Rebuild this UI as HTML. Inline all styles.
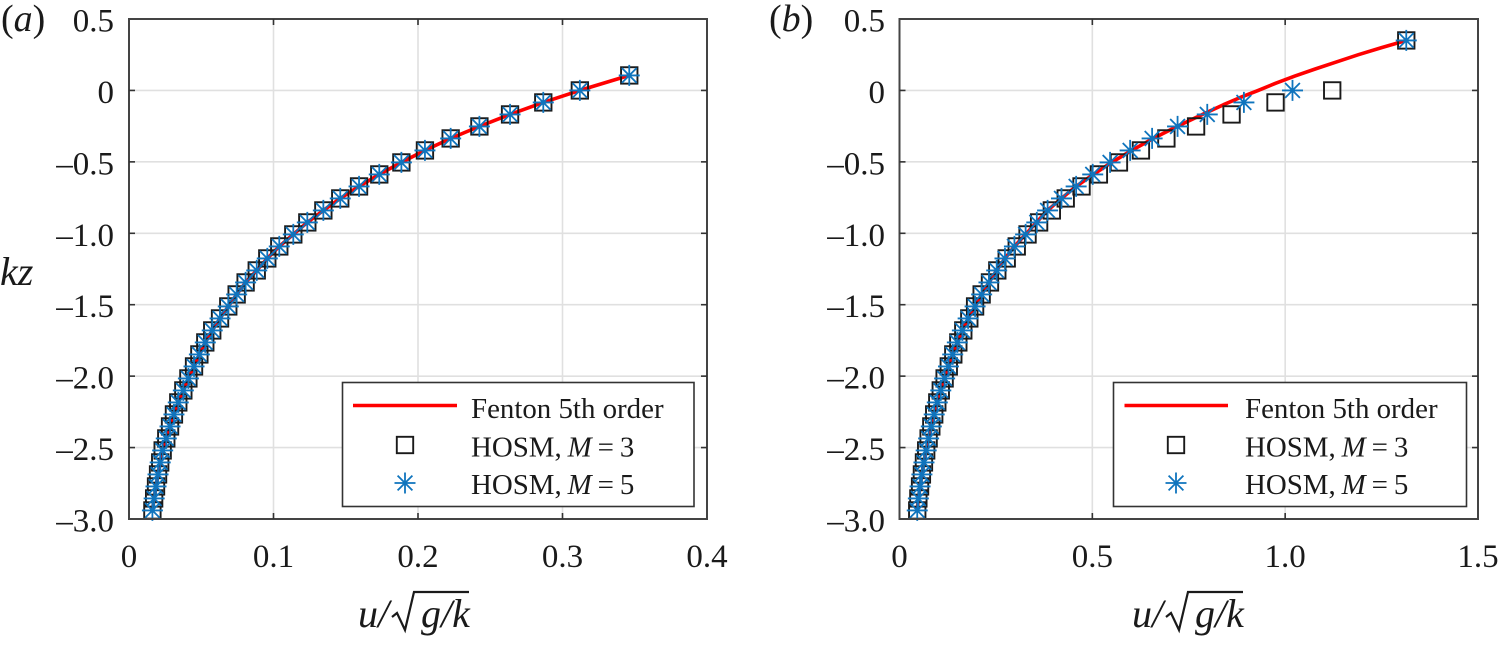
<!DOCTYPE html>
<html>
<head>
<meta charset="utf-8">
<title>Velocity profiles</title>
<style>
html,body{margin:0;padding:0;background:#fff;}
svg{display:block;font-family:"Liberation Serif",serif;fill:#1a1a1a;}
</style>
</head>
<body>
<svg id="fig" xmlns="http://www.w3.org/2000/svg" width="1503" height="665" viewBox="0 0 1503 665"></svg>
<script>
var yTicks = [0.5, 0, -0.5, -1, -1.5, -2, -2.5, -3];
var yTickLabels = ["0.5", "0", "–0.5", "–1.0", "–1.5", "–2.0", "–2.5", "–3.0"];
var xTicksA = [0, 0.1, 0.2, 0.3, 0.4];
var xTickLabelsA = ["0", "0.1", "0.2", "0.3", "0.4"];
var xTicksB = [0, 0.5, 1.0, 1.5];
var xTickLabelsB = ["0", "0.5", "1.0", "1.5"];

var kzA = [0.105, 0, -0.084, -0.168, -0.252, -0.336, -0.42, -0.504, -0.588, -0.672, -0.756, -0.84, -0.924, -1.008, -1.092, -1.176, -1.26, -1.344, -1.428, -1.512, -1.596, -1.68, -1.764, -1.848, -1.932, -2.016, -2.1, -2.184, -2.268, -2.352, -2.436, -2.52, -2.604, -2.688, -2.772, -2.856, -2.94];
var kzB = [0.35, 0, -0.084, -0.168, -0.252, -0.336, -0.42, -0.504, -0.588, -0.672, -0.756, -0.84, -0.924, -1.008, -1.092, -1.176, -1.26, -1.344, -1.428, -1.512, -1.596, -1.68, -1.764, -1.848, -1.932, -2.016, -2.1, -2.184, -2.268, -2.352, -2.436, -2.52, -2.604, -2.688, -2.772, -2.856, -2.94];

var fentonUA = [0.3462, 0.312, 0.2867, 0.2637, 0.2425, 0.2226, 0.2048, 0.1885, 0.1732, 0.1592, 0.1462, 0.1345, 0.1234, 0.1137, 0.104, 0.0957, 0.0884, 0.0807, 0.0745, 0.0687, 0.063, 0.0576, 0.0528, 0.0487, 0.045, 0.0411, 0.0376, 0.0341, 0.0311, 0.0284, 0.0258, 0.0233, 0.0216, 0.0201, 0.0187, 0.0174, 0.0162];
var fentonKzA = [0.105, 0, -0.084, -0.168, -0.252, -0.336, -0.42, -0.504, -0.588, -0.672, -0.756, -0.84, -0.924, -1.008, -1.092, -1.176, -1.26, -1.344, -1.428, -1.512, -1.596, -1.68, -1.764, -1.848, -1.932, -2.016, -2.1, -2.184, -2.268, -2.352, -2.436, -2.52, -2.604, -2.688, -2.772, -2.856, -2.94];
var m3UA = [0.3462, 0.312, 0.2867, 0.2637, 0.2425, 0.2226, 0.2048, 0.1885, 0.1732, 0.1592, 0.1462, 0.1345, 0.1234, 0.1137, 0.104, 0.0957, 0.0884, 0.0807, 0.0745, 0.0687, 0.063, 0.0576, 0.0528, 0.0487, 0.045, 0.0411, 0.0376, 0.0341, 0.0311, 0.0284, 0.0258, 0.0233, 0.0216, 0.0201, 0.0187, 0.0174, 0.0162];
var m5UA = [0.3462, 0.312, 0.2867, 0.2637, 0.2425, 0.2226, 0.2048, 0.1885, 0.1732, 0.1592, 0.1462, 0.1345, 0.1234, 0.1137, 0.104, 0.0957, 0.0884, 0.0807, 0.0745, 0.0687, 0.063, 0.0576, 0.0528, 0.0487, 0.045, 0.0411, 0.0376, 0.0341, 0.0311, 0.0284, 0.0258, 0.0233, 0.0216, 0.0201, 0.0187, 0.0174, 0.0162];

var fentonUB = [1.314, 1.25, 1.19, 1.133, 1.078, 1.025, 0.975, 0.93, 0.883, 0.84, 0.786, 0.72, 0.658, 0.602, 0.55, 0.503, 0.458, 0.42, 0.384, 0.355, 0.327, 0.298, 0.2735, 0.252, 0.232, 0.213, 0.196, 0.178, 0.163, 0.15, 0.138, 0.127, 0.117, 0.107, 0.098, 0.09, 0.0825, 0.0755, 0.0692, 0.0634, 0.0581, 0.0533, 0.0489, 0.046];
var fentonKzB = [0.35, 0.3, 0.25, 0.2, 0.15, 0.1, 0.05, 0, -0.05, -0.1, -0.168, -0.252, -0.336, -0.42, -0.504, -0.588, -0.672, -0.756, -0.84, -0.924, -1.008, -1.092, -1.176, -1.26, -1.344, -1.428, -1.512, -1.596, -1.68, -1.764, -1.848, -1.932, -2.016, -2.1, -2.184, -2.268, -2.352, -2.436, -2.52, -2.604, -2.688, -2.772, -2.856, -2.94];
var m3UB = [1.314, 1.122, 0.975, 0.861, 0.769, 0.692, 0.626, 0.569, 0.517, 0.472, 0.431, 0.395, 0.362, 0.332, 0.304, 0.278, 0.2536, 0.2346, 0.213, 0.196, 0.181, 0.1654, 0.1525, 0.1395, 0.1278, 0.117, 0.107, 0.098, 0.09, 0.0825, 0.0755, 0.0692, 0.0634, 0.0581, 0.0533, 0.0489, 0.046];
var m5UB = [1.314, 1.019, 0.893, 0.798, 0.721, 0.655, 0.598, 0.546, 0.501, 0.458, 0.42, 0.384, 0.356, 0.327, 0.298, 0.2735, 0.252, 0.232, 0.213, 0.196, 0.178, 0.163, 0.15, 0.138, 0.127, 0.117, 0.107, 0.098, 0.09, 0.0825, 0.0755, 0.0692, 0.0634, 0.0581, 0.0533, 0.0489, 0.046];

var NS = "http://www.w3.org/2000/svg";
var fig = document.getElementById("fig");

function make(parent, tag, attrs, name) {
  var el = document.createElementNS(NS, tag);
  for (var k in attrs) { el.setAttribute(k, attrs[k]); }
  
  
  parent.appendChild(el);
  return el;
}

function drawStar(parent, cx, cy, name) {
  var s = make(parent, "path", {
    d: "M" + cx + " " + (cy - 10.5) + "V" + (cy + 10.5) +
       "M" + (cx - 10.5) + " " + cy + "H" + (cx + 10.5) +
       "M" + (cx - 7.4) + " " + (cy - 7.4) + "L" + (cx + 7.4) + " " + (cy + 7.4) +
       "M" + (cx - 7.4) + " " + (cy + 7.4) + "L" + (cx + 7.4) + " " + (cy - 7.4),
    fill: "none", stroke: "#0f74bd", "stroke-width": 1.8
  }, name);
  return s;
}

function drawSquare(parent, cx, cy, name) {
  return make(parent, "rect", {
    x: cx - 8.2, y: cy - 8.2, width: 16.4, height: 16.4,
    fill: "none", stroke: "#1a1a1a", "stroke-width": 1.9
  }, name);
}

function drawPanel(id, x0, x1, xMax, xT, xL, kz, fU, fK, m3, m5, labelRight) {
  var yTop = 19, yBot = 519;
  function sx(u) { return x0 + u / xMax * (x1 - x0); }
  function sy(v) { return yTop + (0.5 - v) / 3.5 * (yBot - yTop); }
  var g = make(fig, "g", {}, "panel-" + id);
  var i;

  for (i = 0; i < xT.length; i++) {
    if (xT[i] > 0 && xT[i] < xMax) {
      make(g, "line", {x1: sx(xT[i]), x2: sx(xT[i]), y1: yTop, y2: yBot, stroke: "#e0e0e0", "stroke-width": 1.6}, "x-gridline");
    }
  }
  for (i = 0; i < yTicks.length; i++) {
    if (yTicks[i] < 0.5 && yTicks[i] > -3) {
      make(g, "line", {x1: x0, x2: x1, y1: sy(yTicks[i]), y2: sy(yTicks[i]), stroke: "#e0e0e0", "stroke-width": 1.6}, "y-gridline");
    }
  }

  var pts = [];
  for (i = 0; i < fU.length; i++) { pts.push(sx(fU[i]).toFixed(1) + "," + sy(fK[i]).toFixed(1)); }
  make(g, "polyline", {points: pts.join(" "), fill: "none", stroke: "#ff0000", "stroke-width": 3.6, "stroke-linejoin": "round"}, "fenton-curve");

  for (i = 0; i < m3.length; i++) { drawSquare(g, sx(m3[i]), sy(kz[i]), "hosm-m3-marker"); }
  for (i = 0; i < m5.length; i++) { drawStar(g, sx(m5[i]), sy(kz[i]), "hosm-m5-marker"); }

  make(g, "rect", {x: x0, y: yTop, width: x1 - x0, height: yBot - yTop, fill: "none", stroke: "#444", "stroke-width": 2}, "axes-box");

  for (i = 0; i < xT.length; i++) {
    var xp = sx(xT[i]);
    if (xT[i] > 0 && xT[i] < xMax) {
      make(g, "line", {x1: xp, x2: xp, y1: yTop, y2: yTop + 6, stroke: "#333", "stroke-width": 1.6}, "x-tick-top");
      make(g, "line", {x1: xp, x2: xp, y1: yBot, y2: yBot - 6, stroke: "#333", "stroke-width": 1.6}, "x-tick-bottom");
    }
    var tx = make(g, "text", {x: xp, y: 567, "text-anchor": "middle", "font-size": 33}, "x-tick-label");
    tx.textContent = xL[i];
  }
  for (i = 0; i < yTicks.length; i++) {
    var yp = sy(yTicks[i]);
    if (yTicks[i] < 0.5 && yTicks[i] > -3) {
      make(g, "line", {x1: x0, x2: x0 + 6, y1: yp, y2: yp, stroke: "#333", "stroke-width": 1.6}, "y-tick-left");
      make(g, "line", {x1: x1, x2: x1 - 6, y1: yp, y2: yp, stroke: "#333", "stroke-width": 1.6}, "y-tick-right");
    }
    var ty = make(g, "text", {x: labelRight, y: yp + 12.5, "text-anchor": "end", "font-size": 33}, "y-tick-label");
    ty.textContent = yTickLabels[i];
  }
  return g;
}

function drawLegend(g, bx0, bx1, lx0, lx1, mx, tx) {
  make(g, "rect", {x: bx0, y: 382.5, width: bx1 - bx0, height: 124, fill: "#fff", stroke: "#333", "stroke-width": 1.6}, "legend-box");
  make(g, "line", {x1: lx0, x2: lx1, y1: 405.5, y2: 405.5, stroke: "#ff0000", "stroke-width": 3.6}, "legend-line-fenton");
  drawSquare(g, mx, 445, "legend-marker-m3");
  drawStar(g, mx, 483, "legend-marker-m5");
  var t1 = make(g, "text", {x: tx, y: 418, "font-size": 28.9}, "legend-label-fenton");
  t1.textContent = "Fenton 5th order";
  var t2 = make(g, "text", {x: tx, y: 456.5, "font-size": 28.9, "word-spacing": -1.3}, "legend-label-m3");
  t2.innerHTML = 'HOSM, <tspan font-style="italic">M</tspan> = 3';
  var t3 = make(g, "text", {x: tx, y: 494, "font-size": 28.9, "word-spacing": -1.3}, "legend-label-m5");
  t3.innerHTML = 'HOSM, <tspan font-style="italic">M</tspan> = 5';
}

function drawXLabel(g, dx) {
  var lab1 = make(g, "text", {x: 358 + dx, y: 627, "font-size": 40, "font-style": "italic"}, "x-axis-title");
  lab1.textContent = "u/";
  make(g, "path", {d: "M" + (392 + dx) + " 617L" + (397 + dx) + " 613L" + (405 + dx) + " 630L" + (414 + dx) + " 592H" + (469 + dx), fill: "none", stroke: "#1a1a1a", "stroke-width": 2.2}, "x-axis-title-radical");
  var lab2 = make(g, "text", {x: 421 + dx, y: 627, "font-size": 40, "font-style": "italic"}, "x-axis-title-radicand");
  lab2.textContent = "g/k";
}

var pa = drawPanel("a", 129, 707, 0.4, xTicksA, xTickLabelsA, kzA, fentonUA, fentonKzA, m3UA, m5UA, 114);
var pb = drawPanel("b", 899.5, 1478, 1.5, xTicksB, xTickLabelsB, kzB, fentonUB, fentonKzB, m3UB, m5UB, 885);
drawLegend(pa, 342.5, 694, 353, 457, 405, 471);
drawLegend(pb, 1113.5, 1466.5, 1124.5, 1228, 1176, 1245);
drawXLabel(pa, 0);
drawXLabel(pb, 774);

var la = make(pa, "text", {x: 1, y: 31, "font-size": 38}, "panel-label-a");
la.innerHTML = '(<tspan font-style="italic">a</tspan>)';
var lb = make(pb, "text", {x: 769, y: 31, "font-size": 38}, "panel-label-b");
lb.innerHTML = '(<tspan font-style="italic">b</tspan>)';
var ky = make(pa, "text", {x: 0, y: 285, "font-size": 40, "font-style": "italic"}, "y-axis-title");
ky.textContent = "kz";
</script>
</body>
</html>
